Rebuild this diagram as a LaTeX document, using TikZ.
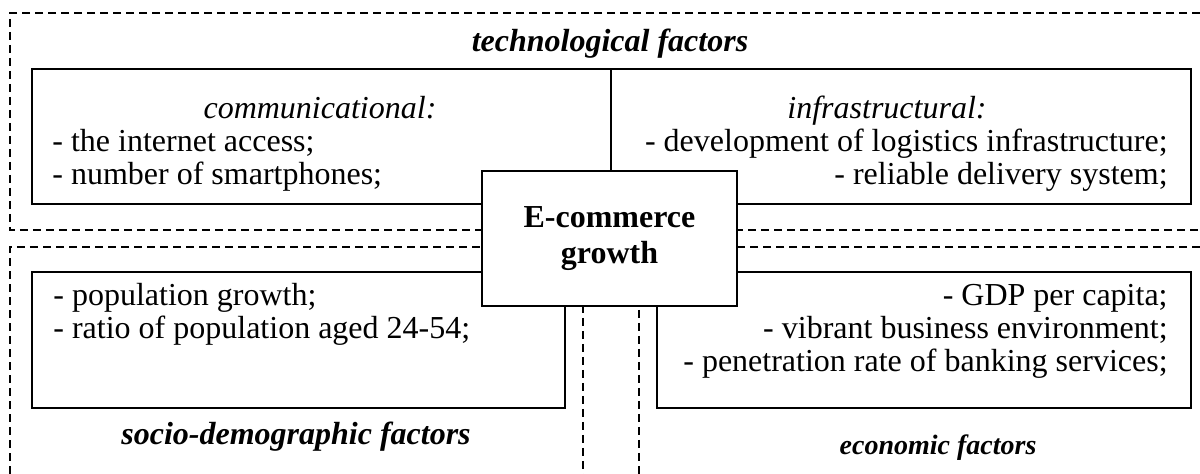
\documentclass[tikz,border=0pt]{standalone}
\usepackage{fontspec}
\setmainfont{Liberation Serif}
\begin{document}
\begin{tikzpicture}[x=0.5pt,y=-0.5pt,
  zone/.style={line width=0.6pt, dash pattern=on 4pt off 2.5pt},
  solidbox/.style={draw, line width=0.8pt},
  txt/.style={inner sep=0pt, font=\fontsize{16}{16}\selectfont},
  heading/.style={txt, font=\fontsize{16}{16}\selectfont\bfseries\itshape},
  subhead/.style={txt, font=\fontsize{16}{16}\selectfont\itshape}]
\useasboundingbox (0,0) rectangle (1200,474);
% dashed zones
\coordinate (tzA) at (1200,13); \coordinate (tzB) at (10,13);
\coordinate (tzC) at (10,230); \coordinate (tzD) at (1200,230);
\draw[zone] (tzA) -- (tzB) -- (tzC) -- (tzD);
\coordinate (szA) at (10,474); \coordinate (szB) at (10,247);
\coordinate (szC) at (583,247); \coordinate (szD) at (583,474);
\draw[zone] (szA) -- (szB) -- (szC) -- (szD);
\coordinate (ezA) at (1200,247); \coordinate (ezB) at (639,247);
\coordinate (ezC) at (639,474);
\draw[zone] (ezA) -- (ezB) -- (ezC);
% solid boxes
\coordinate (tbA) at (32,69); \coordinate (tbB) at (1191,204);
\draw[line width=0.8pt] (tbA) rectangle (tbB);
\coordinate (sbA) at (32,272); \coordinate (sbB) at (565,408);
\draw[line width=0.8pt] (sbA) rectangle (sbB);
\coordinate (ebA) at (657,272); \coordinate (ebB) at (1191,408);
\draw[line width=0.8pt] (ebA) rectangle (ebB);
% central box
\node[solidbox, fill=white, minimum width=127.5pt, minimum height=67.5pt,
      align=center, font=\fontsize{16}{18}\selectfont\bfseries] (ecom) at (609.5,238.5)
      {E-commerce\\growth};
\coordinate (div) at (611,69);
\draw[line width=0.8pt] (div) -- (div |- ecom.north);
% texts
\node[heading, anchor=base] (tech) at (610,52) {technological factors};
\node[subhead, anchor=base] (comm) at (320,119) {communicational:};
\node[txt, anchor=base west] (c1) at (52,152) {- the internet access;};
\node[txt, anchor=base west] (c2) at (52,185) {- number of smartphones;};
\node[subhead, anchor=base] (infra) at (887,119) {infrastructural:};
\node[txt, anchor=base east] (i1) at (1168,152) {- development of logistics infrastructure;};
\node[txt, anchor=base east] (i2) at (1168,185) {- reliable delivery system;};
\node[txt, anchor=base west] (s1) at (53,306) {- population growth;};
\node[txt, anchor=base west] (s2) at (53,339) {- ratio of population aged 24-54;};
\node[txt, anchor=base east] (e1) at (1168,306) {- GDP per capita;};
\node[txt, anchor=base east] (e2) at (1168,339) {- vibrant business environment;};
\node[txt, anchor=base east] (e3) at (1168,372) {- penetration rate of banking services;};
\node[heading, anchor=base] (socio) at (296,445) {socio-demographic factors};
\node[heading, anchor=base, font=\fontsize{14}{14}\selectfont\bfseries\itshape] (econ) at (938,455) {economic factors};
\end{tikzpicture}
\end{document}
